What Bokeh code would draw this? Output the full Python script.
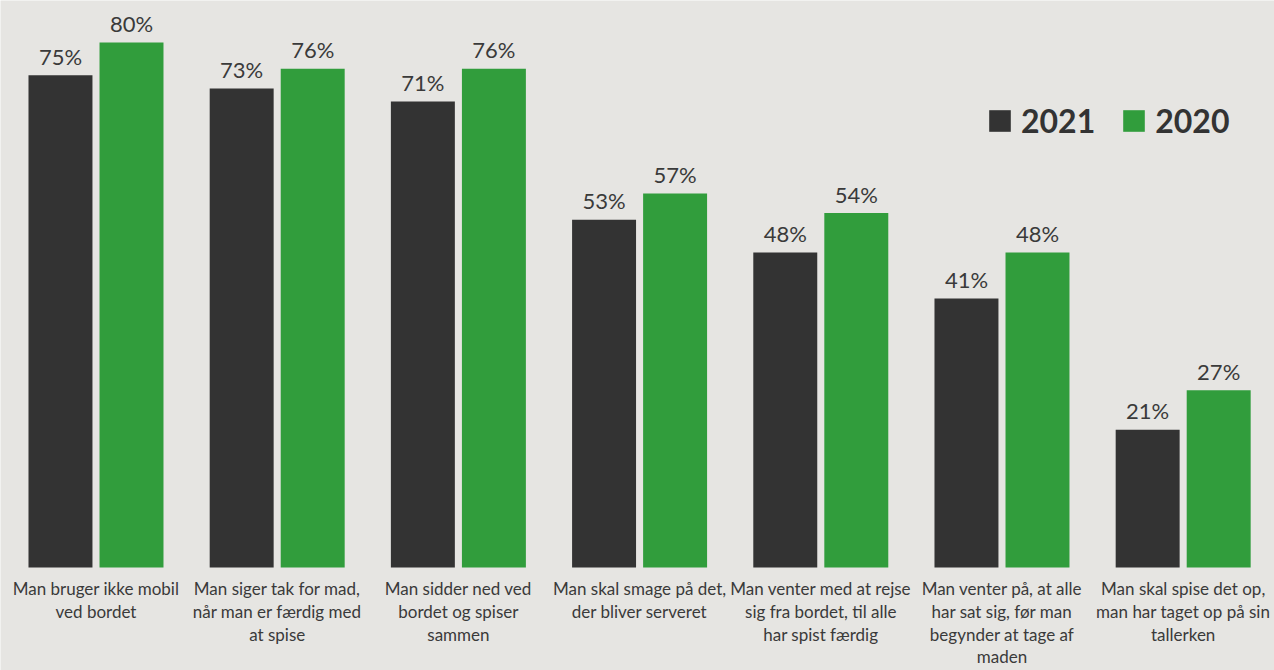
from bokeh.plotting import figure
from bokeh.models import ColumnDataSource, Range1d, Legend, LegendItem
from bokeh.core.properties import value
from bokeh.transform import dodge
from bokeh.embed import file_html
from bokeh.resources import INLINE

categories = [
    "Man bruger ikke mobil\nved bordet",
    "Man siger tak for mad,\nnår man er færdig med\nat spise",
    "Man sidder ned ved\nbordet og spiser\nsammen",
    "Man skal smage på det,\nder bliver serveret",
    "Man venter med at rejse\nsig fra bordet, til alle\nhar spist færdig",
    "Man venter på, at alle\nhar sat sig, før man\nbegynder at tage af\nmaden",
    "Man skal spise det op,\nman har taget op på sin\ntallerken",
]
v2021 = [75, 73, 71, 53, 48, 41, 21]
v2020 = [80, 76, 76, 57, 54, 48, 27]
years = ["2021", "2020"]

BG = "#e6e5e2"
DARK = "#333333"
GREEN = "#319d3c"
TXT = "#3a3a3a"
FONT = "Lato"

xs = list(range(len(categories)))
src = ColumnDataSource(dict(
    x=xs, cat=categories, v2021=v2021, v2020=v2020,
    l2021=[f"{v}%" for v in v2021], l2020=[f"{v}%" for v in v2020],
    ly2021=[v + 2.9 for v in v2021], ly2020=[v + 2.9 for v in v2020],
    cy=[-1.65] * len(categories),
))

p = figure(width=1274, height=670, x_range=Range1d(-0.527, 6.504),
           y_range=Range1d(-15.7, 86.4), output_backend="svg",
           toolbar_location=None, min_border=0,
           x_axis_type=None, y_axis_type=None)
p.grid.visible = False
p.outline_line_color = None
p.background_fill_color = BG
p.border_fill_color = BG

off = 0.196
w = 0.353
r1 = p.vbar(x=dodge("x", -off), top="v2021", width=w, bottom=0, source=src,
            fill_color=DARK, line_color=None)
r2 = p.vbar(x=dodge("x", off), top="v2020", width=w, bottom=0, source=src,
            fill_color=GREEN, line_color=None)

for col, ycol, d in (("l2021", "ly2021", -off), ("l2020", "ly2020", off)):
    p.text(x=dodge("x", d), y=ycol, text=col, source=src,
           text_font=value(FONT), text_font_size="22px", text_color=TXT,
           text_align="center", text_baseline="alphabetic")

p.text(x="x", y="cy", text="cat", source=src, text_font=value(FONT),
       text_font_size="17px", text_color=TXT, text_align="center",
       text_baseline="top", text_line_height=1.08)

legend = Legend(items=[LegendItem(label=years[0], renderers=[r1]),
                       LegendItem(label=years[1], renderers=[r2])],
                location=(986, 530), orientation="horizontal",
                background_fill_alpha=0, border_line_color=None,
                label_text_font=FONT, label_text_font_size="32px",
                label_text_font_style="bold", label_text_color="#333333",
                glyph_width=27, glyph_height=27, label_standoff=8,
                spacing=25, padding=0, margin=0)
p.add_layout(legend)

open("out.html", "w").write(file_html(p, INLINE))
